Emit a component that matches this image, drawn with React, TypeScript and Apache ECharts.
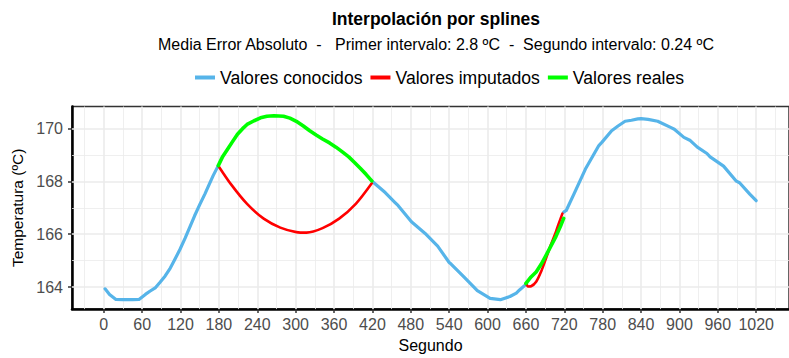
import React, { useEffect, useRef } from 'react';
import * as echarts from 'echarts';

// Known values (three blue segments) [second, ºC]
const knownA: [number, number][] = [
  [2, 163.93], [9, 163.72], [19, 163.53], [30, 163.52], [45, 163.52], [55, 163.53],
  [65, 163.72], [72, 163.84], [81, 163.98], [88, 164.18], [96, 164.42], [104, 164.72],
  [111, 165.04], [119, 165.42], [127, 165.84], [135, 166.3], [142, 166.7], [150, 167.12],
  [158, 167.52], [165, 167.9], [171, 168.22], [179, 168.6],
];
const knownB: [number, number][] = [
  [419, 168.02], [440, 167.58], [455, 167.21], [460, 167.09], [481, 166.47], [502, 166.04],
  [522, 165.55], [540, 164.93], [543, 164.87], [563, 164.38], [584, 163.86], [604, 163.57],
  [620, 163.52], [635, 163.64], [645, 163.77], [650, 163.89], [661, 164.12],
];
const knownC: [number, number][] = [
  [719, 166.84], [723, 166.9], [735, 167.52], [753, 168.47], [774, 169.36], [779, 169.49],
  [794, 169.92], [804, 170.1], [815, 170.28], [825, 170.32], [835, 170.37], [840, 170.38],
  [851, 170.35], [866, 170.28], [887, 170.04], [892, 169.98], [907, 169.67], [917, 169.55],
  [928, 169.3], [943, 169.06], [948, 168.93], [969, 168.58], [989, 168.01], [994, 167.95],
  [1010, 167.52], [1020, 167.27],
];
// Imputed values (red)
const imputedA: [number, number][] = [
  [180, 168.56], [199, 167.89], [224, 167.15], [250, 166.59], [276, 166.25], [301, 166.08],
  [317, 166.06], [342, 166.23], [368, 166.59], [394, 167.15], [419, 167.93],
];
const imputedB: [number, number][] = [
  [660, 164.14], [664, 164.02], [668, 164.03], [676, 164.2], [684, 164.6], [691, 165.06],
  [699, 165.6], [707, 166.1], [712, 166.45], [717, 166.78],
];
// Real values (green)
const realA: [number, number][] = [
  [179, 168.6], [186, 168.95], [194, 169.24], [201, 169.5], [209, 169.79], [217, 170.0],
  [224, 170.16], [235, 170.3], [245, 170.41], [255, 170.47], [266, 170.49], [281, 170.47],
  [291, 170.4], [301, 170.28], [312, 170.1], [322, 169.92], [332, 169.76], [342, 169.61],
  [353, 169.46], [363, 169.3], [373, 169.12], [383, 168.93], [392, 168.72], [401, 168.5],
  [410, 168.27], [419, 168.02],
];
const realB: [number, number][] = [
  [660, 164.14], [668, 164.38], [676, 164.57], [684, 164.87], [691, 165.18], [699, 165.55],
  [707, 165.92], [714, 166.3], [719, 166.6],
];

const xTicks = [0, 60, 120, 180, 240, 300, 360, 420, 480, 540, 600, 660, 720, 780, 840, 900, 960, 1020];
const xMinor = [-30, 30, 90, 150, 210, 270, 330, 390, 450, 510, 570, 630, 690, 750, 810, 870, 930, 990, 1050];
const yTicks = [164, 166, 168, 170];
const yMinor = [165, 167, 169];

const TITLE = 'Interpolación por splines';
const SUBTITLE = 'Media Error Absoluto  -   Primer intervalo: 2.8 ºC  -  Segundo intervalo: 0.24 ºC';
const NAMES = ['Valores conocidos', 'Valores imputados', 'Valores reales'];

const FONT = "'Liberation Sans', Arial, sans-serif";
const BLUE = '#56B4E9';
const RED = '#FF0000';
const GREEN = '#00FF00';

export default function App() {
  const ref = useRef<HTMLDivElement>(null);
  useEffect(() => {
    const chart = echarts.init(ref.current!, null, { renderer: 'svg' });
    const gridData = [
      ...xMinor.map((v) => ({ xAxis: v, lineStyle: { width: 0.8 } })),
      ...yMinor.map((v) => ({ yAxis: v, lineStyle: { width: 0.8 } })),
      ...xTicks.map((v) => ({ xAxis: v, lineStyle: { width: 1.6 } })),
      ...yTicks.map((v) => ({ yAxis: v, lineStyle: { width: 1.6 } })),
    ];
    const lineSeries = (name: string, data: [number, number][], color: string, width: number, smooth: number | boolean = false) => ({
      type: 'line',
      name,
      data,
      color,
      showSymbol: false,
      symbol: 'none',
      smooth,
      z: 3,
      lineStyle: { color, width, cap: 'round', join: 'round' },
      emphasis: { disabled: true },
    });
    chart.setOption({
      animation: false,
      backgroundColor: '#ffffff',
      graphic: [
        {
          type: 'text', x: 436, y: 18.5,
          style: { text: TITLE, font: `bold 17.5px ${FONT}`, fill: '#000', align: 'center', verticalAlign: 'middle', textAlign: 'center', textVerticalAlign: 'middle' },
        },
        {
          type: 'text', x: 436, y: 44.5,
          style: { text: SUBTITLE, font: `16px ${FONT}`, fill: '#000', align: 'center', verticalAlign: 'middle', textAlign: 'center', textVerticalAlign: 'middle' },
        },
      ],
      legend: {
        data: NAMES,
        left: 195,
        top: 68,
        padding: 0,
        icon: 'rect',
        itemWidth: 20,
        itemHeight: 4,
        itemGap: 8,
        selectedMode: false,
        textStyle: { fontSize: 17.6, fontFamily: FONT, color: '#000', lineHeight: 19 },
      },
      grid: {
        left: 72, right: -11, top: 106.5, bottom: 43.3,
        show: true, borderColor: '#333', borderWidth: 1.5, backgroundColor: '#fff',
      },
      xAxis: {
        type: 'value',
        min: -49.7,
        max: 1071.3,
        name: 'Segundo',
        nameLocation: 'middle',
        nameGap: 19,
        nameTextStyle: { fontSize: 16, fontFamily: FONT, color: '#000' },
        axisLine: { onZero: false, lineStyle: { color: '#000', width: 2.5 } },
        axisTick: { show: true, length: 4, customValues: xTicks, lineStyle: { color: '#333', width: 1.5 } },
        axisLabel: { customValues: xTicks, fontSize: 16, fontFamily: FONT, color: '#4D4D4D', margin: 7, formatter: (v: number) => String(v) },
        splitLine: { show: false },
      },
      yAxis: {
        type: 'value',
        min: 163.163,
        max: 170.84,
        name: 'Temperatura (ºC)',
        nameLocation: 'middle',
        nameGap: 44,
        nameTextStyle: { fontSize: 15.5, fontFamily: FONT, color: '#000' },
        axisLine: { show: true, onZero: false, lineStyle: { color: '#000', width: 2.5 } },
        axisTick: { show: true, length: 4, customValues: yTicks, lineStyle: { color: '#333', width: 1.5 } },
        axisLabel: { customValues: yTicks, fontSize: 16, fontFamily: FONT, color: '#4D4D4D', margin: 9, formatter: (v: number) => String(v) },
        splitLine: { show: false },
      },
      series: [
        {
          type: 'line',
          name: 'grid',
          data: [],
          silent: true,
          z: 1,
          markLine: {
            silent: true,
            z: 1,
            symbol: ['none', 'none'],
            label: { show: false },
            emphasis: { disabled: true },
            lineStyle: { color: '#EBEBEB', type: 'solid' },
            data: gridData,
          },
        },
        lineSeries(NAMES[0], knownA, BLUE, 3.2),
        lineSeries(NAMES[0], knownB, BLUE, 3.2),
        lineSeries(NAMES[0], knownC, BLUE, 3.2),
        lineSeries(NAMES[1], imputedA, RED, 2.6, 0.3),
        lineSeries(NAMES[1], imputedB, RED, 2.6, 0.3),
        lineSeries(NAMES[2], realA, GREEN, 3.6),
        lineSeries(NAMES[2], realB, GREEN, 3.6),
      ],
    });
    return () => chart.dispose();
  }, []);
  return <div ref={ref} style={{ position: 'fixed', left: 0, top: 0, width: 789, height: 358 }} />;
}
